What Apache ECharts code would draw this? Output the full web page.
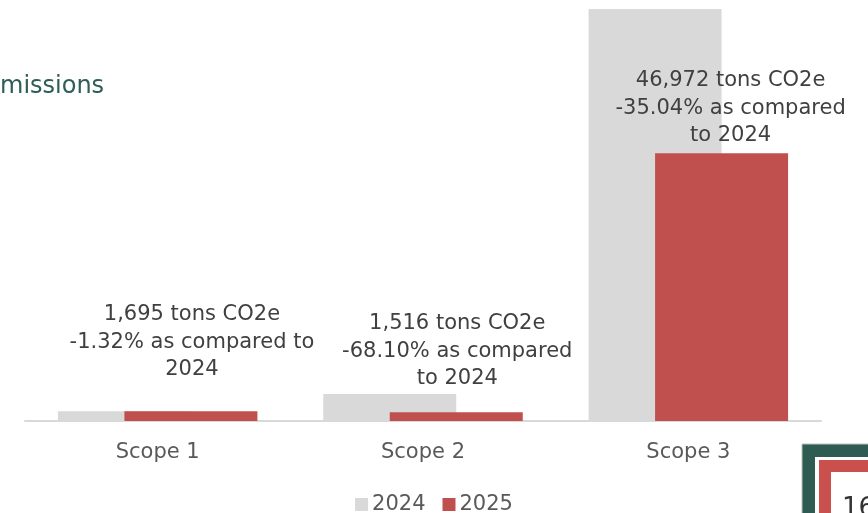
<!DOCTYPE html>
<html>
<head>
<meta charset="utf-8">
<script src="https://cdn.jsdelivr.net/npm/echarts@6/dist/echarts.min.js"></script>
<style>
html,body{margin:0;padding:0;background:#fff;}
#chart{width:868px;height:513px;}
</style>
</head>
<body>
<div id="chart"></div>
<script>
var categories = ['Scope 1', 'Scope 2', 'Scope 3'];
var seriesNames = ['2024', '2025'];
var values2024 = [1718, 4752, 72309];
var values2025 = [1695, 1516, 46972];
var labels2025 = [
  '1,695 tons CO2e\n-1.32% as compared to\n2024',
  '1,516 tons CO2e\n-68.10% as compared\nto 2024',
  '46,972 tons CO2e\n-35.04% as compared\nto 2024'
];
var labelDistance = [28, 20, 4];
var labelOffsetX = [1, 1, 9];

var chart = echarts.init(document.getElementById('chart'));
var FONT = 'DejaVu Sans';

chart.setOption({
  animation: false,
  textStyle: { fontFamily: FONT },
  grid: { left: 25, right: 47, top: 9, bottom: 92, containLabel: false },
  legend: {
    top: 489,
    left: 'center',
    itemWidth: 13,
    itemHeight: 13,
    itemGap: 17,
    icon: 'rect',
    textStyle: { fontFamily: FONT, fontSize: 21, color: '#595959', padding: [0, 0, 0, -1] },
    data: seriesNames
  },
  xAxis: {
    type: 'category',
    data: categories,
    axisLine: { show: true, lineStyle: { color: '#D9D9D9', width: 2 } },
    axisTick: { show: false },
    axisLabel: { fontFamily: FONT, fontSize: 21, color: '#595959', margin: 21 }
  },
  yAxis: {
    type: 'value',
    min: 0,
    max: 72309,
    show: false,
    splitLine: { show: false }
  },
  series: [
    {
      name: seriesNames[0],
      type: 'bar',
      data: values2024,
      barWidth: 133,
      barGap: '-50%',
      itemStyle: { color: '#D9D9D9' }
    },
    {
      name: seriesNames[1],
      type: 'bar',
      barWidth: 133,
      barGap: '-50%',
      itemStyle: { color: '#C0504D' },
      data: values2025.map(function (v, i) {
        return {
          value: v,
          label: {
            show: true,
            position: 'top',
            distance: labelDistance[i],
            offset: [labelOffsetX[i], 0],
            formatter: labels2025[i],
            fontFamily: FONT,
            fontSize: 21,
            lineHeight: 27.5,
            color: '#404040',
            align: 'center'
          }
        };
      })
    }
  ],
  graphic: [
    {
      type: 'text', left: 0, top: 75,
      style: { text: 'missions', font: '24px "DejaVu Sans"', fill: '#2E5E56' }
    },
    { type: 'rect', shape: { x: 802, y: 444, width: 80, height: 80 }, style: { fill: '#2E5B52', stroke: '#BFBFBF', lineWidth: 1 } },
    { type: 'rect', shape: { x: 815, y: 457, width: 70, height: 70 }, style: { fill: '#FFFFFF' } },
    { type: 'rect', shape: { x: 819, y: 460, width: 60, height: 60 }, style: { fill: '#C9504D' } },
    { type: 'rect', shape: { x: 831, y: 472, width: 50, height: 50 }, style: { fill: '#FFFFFF' } },
    {
      type: 'text', left: 842, top: 496,
      style: { text: '16', font: '26px "DejaVu Sans"', fill: '#333333' }
    }
  ]
});
</script>
</body>
</html>
